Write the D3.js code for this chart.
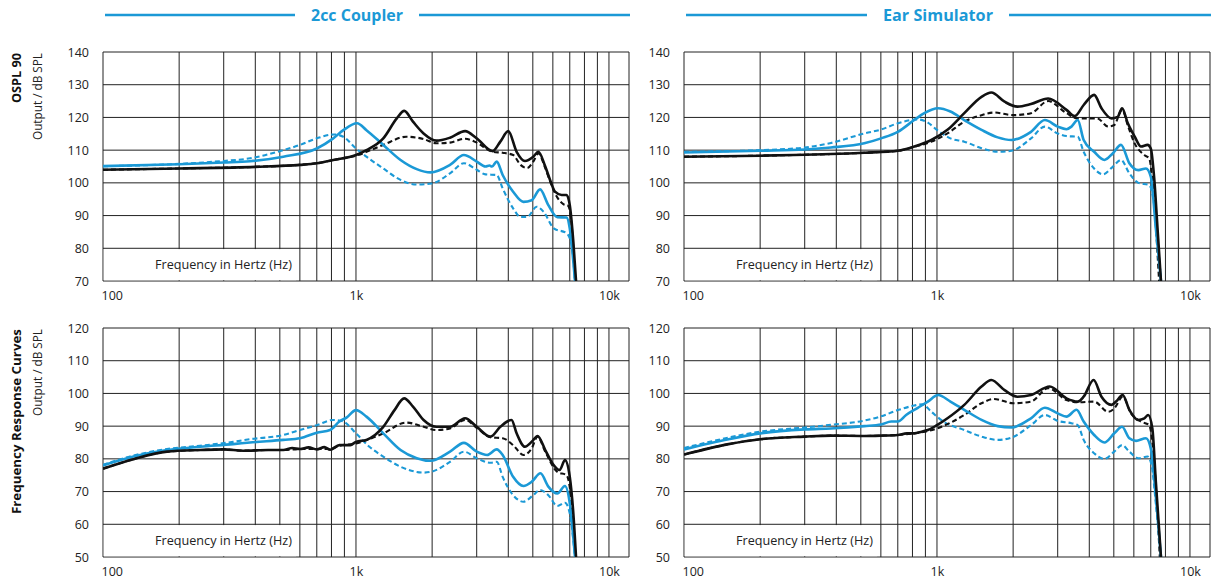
<!DOCTYPE html>
<html>
<head>
<meta charset="utf-8">
<script src="https://cdn.jsdelivr.net/npm/d3@7"></script>
<style>
  html, body { margin: 0; padding: 0; background: #fff; }
  svg { display: block; }
  text { font-family: "Open Sans", "Noto Sans", sans-serif; fill: #222; }
</style>
</head>
<body>
<svg id="chart" width="1213" height="583"></svg>
<script>
// ---------- axis values ----------
const freqDomain = [100, 12000];
const gridFreqs = [100, 200, 300, 400, 500, 600, 700, 800, 900,
                   1000, 2000, 3000, 4000, 5000, 6000, 7000, 8000, 9000, 10000];
const xTickValues = [100, 1000, 10000];
const xTickText = ["100", "1k", "10k"];
const osplTicks = [70, 80, 90, 100, 110, 120, 130, 140];
const frTicks = [50, 60, 70, 80, 90, 100, 110, 120];

const columnTitles = ["2cc Coupler", "Ear Simulator"];
const rowTitles = ["OSPL 90", "Frequency Response Curves"];
const rowUnit = "Output / dB SPL";
const xAxisTitle = "Frequency in Hertz (Hz)";

// ---------- OSPL 90, 2cc coupler  [Hz, dB SPL] ----------
const cplOsplBlack = [[100,104],[200,104.4],[400,104.9],[600,105.5],[700,106],[813,107],[1000,108.5],[1100,110],[1282,113.6],[1450,119.7],[1552,122],[1680,118.7],[1850,115.1],[2080,112.9],[2353,113.8],[2700,115.8],[3000,113.6],[3467,109.7],[3720,112.6],[4000,115.8],[4315,109.5],[4655,106.7],[5020,108],[5260,109.5],[5600,105],[5850,100.9],[6120,97.3],[6500,96.3],[6800,96.3],[7000,93.2],[7230,82],[7410,70]];
const cplOsplBlackDash = [[100,104],[200,104.4],[400,104.9],[600,105.5],[700,106],[813,107],[1000,108.3],[1282,111.6],[1580,114.1],[1850,113.4],[2080,112.1],[2353,112.3],[2700,113.5],[3000,112.3],[3467,109.5],[3800,109.2],[4180,108.5],[4470,105.5],[4750,104.5],[5020,106.5],[5260,109],[5600,104.5],[5850,100.5],[6200,96],[6600,93.5],[6900,93],[7100,88],[7350,70]];
const cplOsplBlue = [[100,105.1],[200,105.7],[300,106.2],[381,106.6],[516,108],[700,110.5],[813,113.6],[891,116.1],[1010,118.2],[1100,116.1],[1282,111.6],[1500,107],[1738,104.2],[1970,103.2],[2353,105.5],[2670,108.5],[3000,106.5],[3250,105],[3370,105.3],[3450,105],[3600,106.5],[3800,102.4],[4180,97.3],[4590,94.2],[4950,94.7],[5340,98],[5760,93.2],[6250,89.5],[6800,89.4],[7000,86],[7340,70]];
const cplOsplBlueDash = [[100,105.1],[200,105.8],[300,106.7],[381,107.5],[516,110],[601,111.6],[700,113.6],[820,114.8],[891,114.1],[1000,110.5],[1100,108],[1282,104.4],[1500,100.9],[1738,99.5],[1991,99.8],[2353,102.9],[2670,106],[3000,104],[3250,102.6],[3600,102.4],[3800,98.3],[4180,92.2],[4470,89.6],[4750,89.6],[5180,92.7],[5510,91.2],[6050,86.1],[6800,84.6],[7120,81],[7340,70]];

// ---------- OSPL 90, ear simulator ----------
const earOsplBlack = [[100,108],[200,108.3],[300,108.6],[381,108.8],[516,109.2],[700,109.8],[813,111.1],[950,113.1],[1100,116.2],[1282,121.3],[1500,126.3],[1640,127.6],[1850,124.8],[2080,123.3],[2353,124.1],[2750,125.8],[3250,122.3],[3500,120.4],[3800,123.8],[4180,126.9],[4470,122.8],[4900,119.7],[5180,120.2],[5390,122.8],[5680,118.2],[6050,114.1],[6400,111.1],[6800,111.6],[7000,110.5],[7230,100.9],[7450,85.6],[7680,70]];
const earOsplBlackDash = [[100,108],[200,108.3],[300,108.6],[381,108.8],[516,109.2],[700,109.8],[813,111],[950,112.6],[1100,115.1],[1282,118.7],[1500,120.7],[1680,121.5],[2000,120.7],[2353,121.3],[2750,125],[3250,121.3],[3600,119.7],[4300,119.7],[4750,117.2],[5020,117.7],[5390,122.3],[5700,117.2],[6050,112],[6600,108.5],[6900,107.5],[7100,100.9],[7550,70]];
const earOsplBlue = [[100,109.3],[200,109.8],[300,110.2],[381,110.8],[516,112.1],[601,113.6],[700,115.6],[813,119.2],[891,121.3],[1010,122.8],[1130,121.8],[1282,119.2],[1500,116.2],[1738,113.9],[1970,113.1],[2353,115.6],[2670,119.2],[3000,117.2],[3250,116.4],[3400,117.2],[3600,119.2],[3800,113.1],[4180,109.5],[4590,107],[4950,109],[5340,111.6],[5760,106],[6250,103.9],[6700,104.4],[7000,101.9],[7340,85.6],[7680,70]];
const earOsplBlueDash = [[100,109.5],[200,110],[300,110.8],[381,112.2],[516,115.1],[601,116.3],[700,118.2],[840,119.4],[920,118.4],[1000,116.2],[1130,113.6],[1282,112.6],[1500,110.6],[1738,109.5],[1970,109.8],[2353,113.6],[2670,117.2],[3000,115.1],[3250,114.3],[3600,114.1],[3800,109.5],[4180,104.4],[4530,102.6],[4950,104.9],[5340,107],[5760,102.9],[6250,100],[6900,99.3],[7100,96.8],[7680,70]];

// ---------- frequency response, 2cc coupler ----------
const cplFrBlack = [[100,77],[132,79.9],[179,82.2],[242,82.7],[300,82.9],[358,82.5],[450,82.7],[516,82.7],[560,83.3],[601,83],[650,83.5],[700,82.9],[750,83.6],[790,82.8],[860,84.2],[950,84.2],[1000,85.2],[1100,85.8],[1282,89.8],[1420,94.9],[1550,98.5],[1680,96],[1850,91.9],[2080,89.8],[2353,89.8],[2700,92.4],[3000,89.8],[3400,86.8],[3720,89.8],[4120,91.9],[4315,87.8],[4655,83.7],[4950,85.2],[5220,87],[5600,82.7],[5980,78.6],[6380,76.6],[6700,79.6],[7000,74.5],[7230,63.3],[7410,50]];
const cplFrBlackDash = [[100,77],[132,79.9],[179,82.2],[242,82.7],[300,82.9],[358,82.5],[450,82.7],[516,82.7],[601,83],[700,83],[790,83],[860,84],[1000,84.7],[1282,87.8],[1580,91.1],[1850,89.8],[2080,88.8],[2353,89.3],[2700,91.9],[3000,89.5],[3400,86.6],[3800,86.3],[4180,84.2],[4590,81.2],[4950,83.2],[5220,86.8],[5600,82.2],[6250,76],[6800,75],[7050,69.5],[7380,50]];
const cplFrBlue = [[100,78],[132,80.7],[179,82.7],[242,83.7],[327,84.5],[381,85],[516,85.8],[601,86.3],[700,88],[790,88.8],[860,91.4],[920,92.7],[1000,94.9],[1100,92.9],[1282,87.8],[1500,82.7],[1738,80.2],[1970,79.4],[2353,82.2],[2670,84.9],[3000,82.2],[3300,81.2],[3600,82.9],[3800,81.2],[4180,74.5],[4590,71.7],[4950,73],[5360,75.6],[5760,71.5],[6250,69.4],[6700,71.7],[7000,66.4],[7340,50]];
const cplFrBlueDash = [[100,78.2],[132,81],[179,83],[242,84],[327,85.2],[381,86],[516,87.3],[601,88.8],[700,90.3],[813,91.9],[891,91.4],[1000,87.8],[1130,83.7],[1282,80.7],[1500,77.6],[1850,75.8],[1991,76.1],[2353,79.1],[2670,82.2],[3000,80.2],[3400,78.8],[3600,79.1],[3800,74.5],[4180,68.9],[4590,66.9],[5020,68.9],[5340,70.5],[5760,68.9],[6250,65.6],[6700,66.6],[7000,63.3],[7340,50]];

// ---------- frequency response, ear simulator ----------
const earFrBlack = [[100,81.3],[150,84.5],[200,86],[300,86.8],[381,87.1],[516,87],[600,87.1],[700,87.3],[760,87.8],[813,87.8],[870,88.3],[920,88.8],[1000,90.3],[1100,92.4],[1282,96.5],[1500,102.1],[1640,104.1],[1850,101],[2080,99],[2353,99.5],[2790,102.1],[3250,98.5],[3600,97.5],[3800,99],[4160,104.1],[4470,99],[4900,96.5],[5100,97.5],[5420,99.5],[5760,95],[6250,91.9],[6600,92.4],[6840,93.4],[7100,89.3],[7330,73],[7680,50]];
const earFrBlackDash = [[100,81.3],[150,84.5],[200,86],[300,86.8],[381,87.1],[516,87],[700,87.3],[813,87.8],[920,88.5],[1000,89.3],[1282,93.4],[1500,97],[1680,98.3],[2000,97],[2353,97.5],[2750,101.6],[3250,98],[3600,97.3],[4180,97.5],[4750,94.4],[5020,95.4],[5420,99],[5850,93.9],[6400,91.4],[6900,90.3],[7100,85.3],[7600,50]];
const earFrBlue = [[100,82.9],[150,86],[200,87.8],[300,89],[381,89.3],[516,90],[601,90.5],[660,91.4],[700,91.4],[755,93.4],[840,95.6],[920,97.5],[1010,99.5],[1130,97.5],[1282,95],[1500,91.9],[1738,90],[1970,89.6],[2353,92.4],[2670,95.6],[3000,93.9],[3250,92.9],[3560,95],[3800,91.4],[4180,87.3],[4590,85],[5020,87.8],[5390,89.8],[5760,86.3],[6120,85.5],[6700,86.3],[7000,83.2],[7340,67.9],[7680,50]];
const earFrBlueDash = [[100,83.3],[150,86.5],[200,88.3],[300,89.6],[381,90.4],[516,91.7],[601,93],[700,94.9],[813,96.3],[875,96.7],[950,94.4],[1060,91.4],[1282,88.8],[1500,86.8],[1738,85.8],[1970,86.5],[2353,90.3],[2670,93.4],[3000,91.6],[3400,90.9],[3600,90.3],[3800,85.8],[4180,81.7],[4590,80],[5020,82.2],[5390,84.2],[5760,82.2],[6250,80.2],[6800,80.7],[7050,78.1],[7340,65.9],[7680,50]];

// ---------- styling & layout ----------
const BLUE = "#1b99d6";
const BLACK = "#111111";
const GRID = "#222222";

const columns = [{ left: 103, right: 629 }, { left: 684, right: 1210 }];
const rows = [{ top: 52, bottom: 281, ticks: osplTicks },
              { top: 328, bottom: 557, ticks: frTicks }];

const panels = [
  { col: 0, row: 0, curves: [cplOsplBlueDash, cplOsplBlackDash, cplOsplBlue, cplOsplBlack] },
  { col: 1, row: 0, curves: [earOsplBlueDash, earOsplBlackDash, earOsplBlue, earOsplBlack] },
  { col: 0, row: 1, curves: [cplFrBlueDash, cplFrBlackDash, cplFrBlue, cplFrBlack] },
  { col: 1, row: 1, curves: [earFrBlueDash, earFrBlackDash, earFrBlue, earFrBlack] }
];
// stroke for each curve slot: blue dashed, black dashed, blue solid, black solid
const curveStyles = [
  { color: BLUE,  width: 2.1, dash: "5,3" },
  { color: BLACK, width: 2.1, dash: "5,3" },
  { color: BLUE,  width: 2.6, dash: null },
  { color: BLACK, width: 2.6, dash: null }
];

const svg = d3.select("#chart");

// ---------- column headers ----------
columns.forEach((c, i) => {
  const g = svg.append("g");
  const cx = i === 0 ? 357 : 938;
  const tw = i === 0 ? 92 : 110;
  g.append("line").attr("x1", c.left + 2).attr("x2", cx - tw / 2 - 16)
    .attr("y1", 15).attr("y2", 15).attr("stroke", BLUE).attr("stroke-width", 2.6);
  g.append("line").attr("x1", cx + tw / 2 + 16).attr("x2", c.right + 1)
    .attr("y1", 15).attr("y2", 15).attr("stroke", BLUE).attr("stroke-width", 2.6);
  g.append("text").attr("x", cx).attr("y", 21)
    .attr("text-anchor", "middle")
    .attr("textLength", tw).attr("lengthAdjust", "spacingAndGlyphs")
    .style("font-size", "16.5px").style("font-weight", 700).style("fill", BLUE)
    .text(columnTitles[i]);
});

// ---------- row headers ----------
rows.forEach((r, i) => {
  const g = svg.append("g");
  g.append("text")
    .attr("transform", `translate(21,${r.top + 1}) rotate(-90)`)
    .attr("text-anchor", "end")
    .attr("textLength", i === 0 ? 50 : 185).attr("lengthAdjust", "spacingAndGlyphs")
    .style("font-size", "13px").style("font-weight", 700).style("fill", "#111")
    .text(rowTitles[i]);
  g.append("text")
    .attr("transform", `translate(41.5,${r.top + 1}) rotate(-90)`)
    .attr("text-anchor", "end")
    .attr("textLength", 87).attr("lengthAdjust", "spacingAndGlyphs")
    .style("font-size", "12.5px")
    .text(rowUnit);
});

// ---------- panels ----------
panels.forEach((p, pi) => {
  const c = columns[p.col], r = rows[p.row];
  const yDomain = d3.extent(r.ticks);
  const x = d3.scaleLog().domain(freqDomain).range([c.left, c.right]);
  const y = d3.scaleLinear().domain(yDomain).range([r.bottom, r.top]);
  const g = svg.append("g");

  // grid
  g.append("g").selectAll("line").data(gridFreqs).join("line")
    .attr("x1", d => x(d)).attr("x2", d => x(d))
    .attr("y1", r.top).attr("y2", r.bottom)
    .attr("stroke", GRID).attr("stroke-width", 1);
  g.append("g").selectAll("line").data(r.ticks).join("line")
    .attr("x1", c.left).attr("x2", c.right)
    .attr("y1", d => y(d)).attr("y2", d => y(d))
    .attr("stroke", GRID).attr("stroke-width", 1);
  g.append("line").attr("x1", c.right).attr("x2", c.right)
    .attr("y1", r.top).attr("y2", r.bottom)
    .attr("stroke", GRID).attr("stroke-width", 1);

  // blank area for the axis caption in the lowest band
  g.append("rect")
    .attr("x", c.left + 0.8).attr("y", y(yDomain[0] + 10) + 0.8)
    .attr("width", x(580) - c.left - 0.8)
    .attr("height", y(yDomain[0]) - y(yDomain[0] + 10) - 1.6)
    .attr("fill", "#fff");
  g.append("text")
    .attr("x", c.left + 52).attr("y", y(yDomain[0] + 5) + 4.5)
    .attr("textLength", 137).attr("lengthAdjust", "spacingAndGlyphs")
    .style("font-size", "12.5px")
    .text(xAxisTitle);

  // y tick labels
  const yAxis = d3.axisLeft(y).tickValues(r.ticks).tickSize(0).tickPadding(14);
  const ya = g.append("g").attr("transform", `translate(${c.left},0)`).call(yAxis);
  ya.select(".domain").remove();
  ya.selectAll("text").style("font-size", "12.5px").style("font-family", "\"Open Sans\", sans-serif").attr("fill", "#222");

  // x tick labels
  const xAxis = d3.axisBottom(x).tickValues(xTickValues).tickSize(0).tickPadding(10)
    .tickFormat((d, i) => xTickText[i]);
  const xa = g.append("g").attr("transform", `translate(0,${r.bottom})`).call(xAxis);
  xa.select(".domain").remove();
  xa.selectAll("text").style("font-size", "12.5px").style("font-family", "\"Open Sans\", sans-serif").attr("fill", "#222")
    .attr("text-anchor", (d, i) => i === 0 ? "start" : "middle")
    .attr("dx", (d, i) => i === 0 ? "-2" : "0");

  // curves
  const clipId = "clip" + pi;
  svg.append("clipPath").attr("id", clipId).append("rect")
    .attr("x", c.left).attr("y", r.top - 3)
    .attr("width", c.right - c.left).attr("height", r.bottom - r.top + 3);
  const line = d3.line().x(d => x(d[0])).y(d => y(d[1])).curve(d3.curveMonotoneX);
  const cg = g.append("g").attr("clip-path", `url(#${clipId})`);
  p.curves.forEach((data, k) => {
    const s = curveStyles[k];
    cg.append("path").datum(data).attr("d", line)
      .attr("fill", "none").attr("stroke", s.color).attr("stroke-width", s.width)
      .attr("stroke-linejoin", "round")
      .attr("stroke-dasharray", s.dash);
  });
});
</script>
</body>
</html>
